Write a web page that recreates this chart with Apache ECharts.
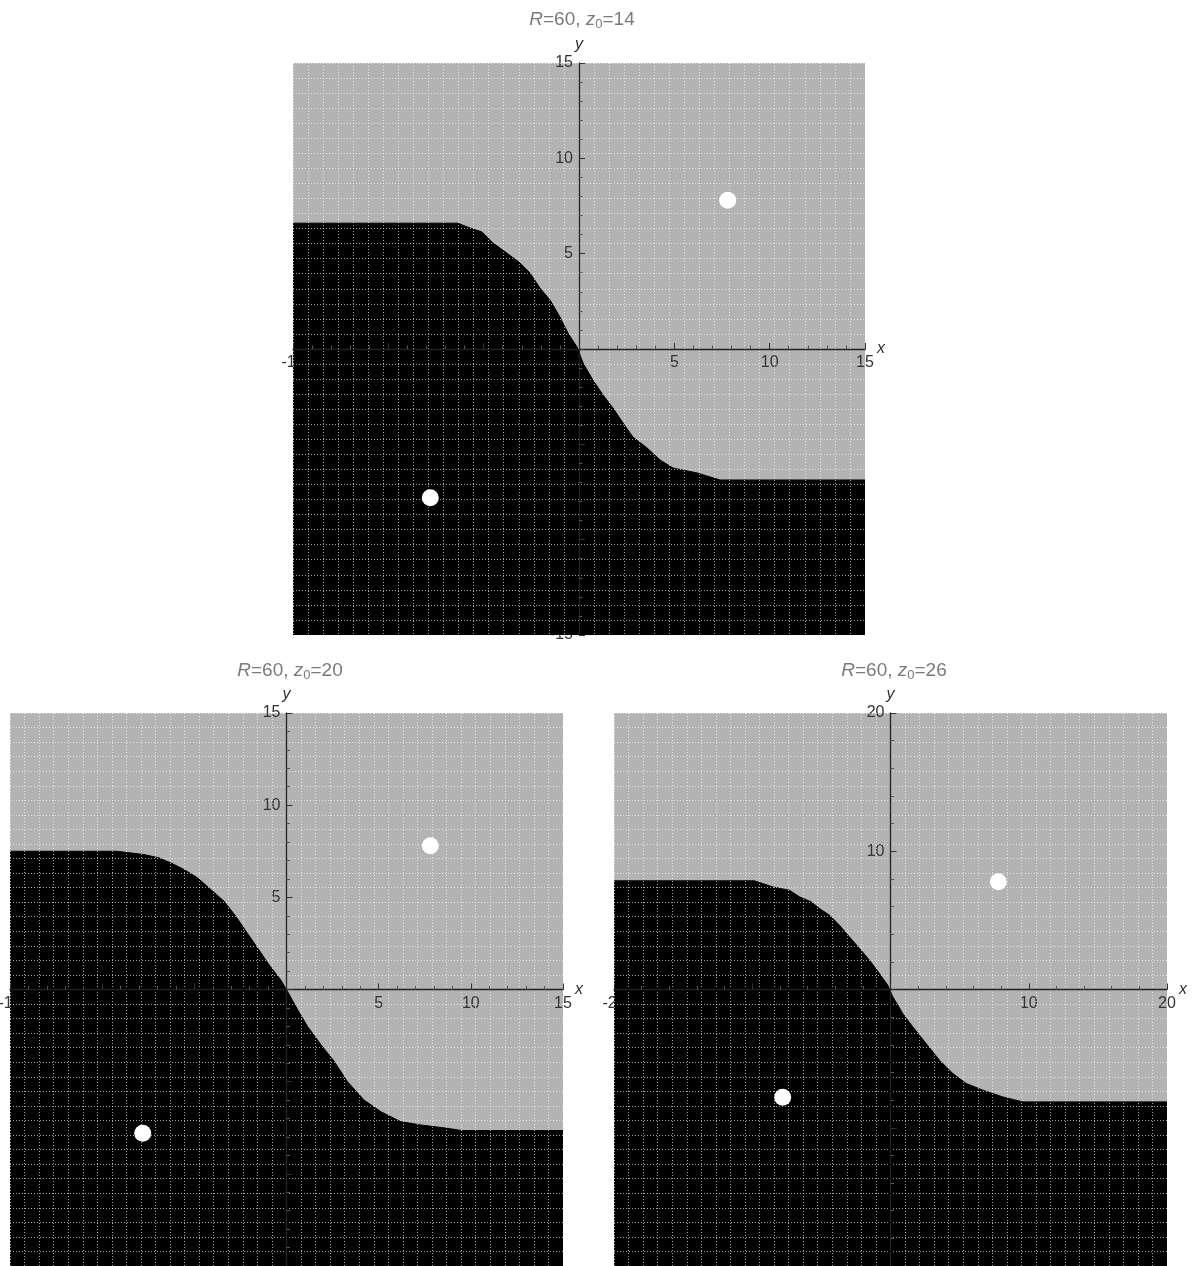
<!DOCTYPE html>
<html>
<head>
<meta charset="utf-8">
<script src="https://cdn.jsdelivr.net/npm/echarts@6/dist/echarts.min.js"></script>
<style>
  html, body { margin: 0; padding: 0; background: #fff; }
  #main { width: 1192px; height: 1266px; }
</style>
</head>
<body>
<div id="main"></div>
<script>
// boundary of the black region (x, y pairs per panel)
var p1X = [-15, -6.35, -5.72, -5.09, -4.51, -3.78, -3.09, -2.57, -2.05, -1.52, -1.00, -0.58, -0.10, 0.21, 0.73, 1.26, 1.78, 2.31, 2.83, 3.57, 4.25, 4.93, 6.19, 7.40, 15];
var p1Y = [6.6, 6.6, 6.35, 6.14, 5.56, 5.03, 4.51, 3.99, 3.20, 2.57, 1.68, 0.84, 0.10, -0.73, -1.63, -2.41, -3.09, -3.88, -4.62, -5.19, -5.82, -6.24, -6.50, -6.87, -6.87];

var p2X = [-15, -9.2, -7.73, -6.91, -6.28, -5.56, -4.83, -4.11, -3.39, -2.75, -2.12, -1.49, -0.94, -0.31, 0.05, 0.60, 1.14, 1.86, 2.58, 3.31, 4.21, 5.12, 6.20, 7.29, 8.74, 9.5, 15];
var p2Y = [7.5, 7.5, 7.32, 7.14, 6.87, 6.51, 6.06, 5.43, 4.79, 3.97, 3.05, 2.14, 1.33, 0.52, -0.09, -1.09, -2.0, -2.98, -3.89, -5.0, -6.0, -6.63, -7.17, -7.35, -7.53, -7.65, -7.65];

var p3X = [-20, -9.84, -8.51, -7.31, -6.58, -5.74, -5.14, -4.41, -3.69, -2.97, -2.24, -1.52, -0.80, -0.20, 0.17, 0.89, 1.61, 2.58, 3.54, 4.51, 5.48, 6.68, 8.12, 9.57, 20];
var p3Y = [7.86, 7.86, 7.42, 7.18, 6.70, 6.34, 5.86, 5.37, 4.65, 3.80, 2.97, 2.12, 1.16, 0.31, -0.53, -1.74, -2.70, -3.91, -5.11, -6.08, -6.80, -7.28, -7.77, -8.13, -8.13];

// the two white points
var dotsX = [7.8, -7.8];
var dotsY = [7.8, -7.8];

// panel settings
var titles = ["14", "20", "26"];
var ranges = [15, 15, 20];
var intervals = [5, 5, 10];
var meshCells = 38;

var font = "Liberation Sans, Arial, sans-serif";

function pairs(xs, ys) {
  var arr = [];
  for (var i = 0; i < xs.length; i++) {
    arr.push([xs[i], ys[i]]);
  }
  return arr;
}

var boundaries = [pairs(p1X, p1Y), pairs(p2X, p2Y), pairs(p3X, p3Y)];
var dots = pairs(dotsX, dotsY);

var grids = [
  { left: 293, top: 63, width: 572, height: 572 },
  { left: 10, top: 713, width: 553, height: 553 },
  { left: 614, top: 713, width: 553, height: 553 }
];
var titleCenters = [[577, 4], [285, 655], [889, 655]];

var xAxes = [], yAxes = [], series = [], titleList = [];

function hideZero(v) {
  return v === 0 ? "" : v;
}

// axes are moved to the middle of the grid (0 is always the centre) with offset.
// "labels" copy sits under the black region, "line" copy above the mesh.
function axis(i, dim, part) {
  var half = (dim === "x" ? grids[i].height : grids[i].width) / 2;
  var a = {
    gridIndex: i,
    type: "value",
    min: -ranges[i],
    max: ranges[i],
    interval: intervals[i],
    position: dim === "x" ? "bottom" : "left",
    offset: -half,
    splitLine: { show: false },
    axisLine: { show: false, onZero: false },
    axisTick: { show: false },
    axisLabel: { show: false }
  };
  if (part === "labels") {
    a.z = 0;
    a.axisLabel = { show: true, formatter: hideZero, fontSize: 16, color: "#333", margin: 6, fontFamily: font };
  } else {
    a.z = 4;
    a.name = dim;
    a.nameLocation = "end";
    a.nameGap = dim === "x" ? 12 : 10;
    a.nameTextStyle = { fontStyle: "italic", fontSize: 16, color: "#333", fontFamily: font };
    a.axisLine = { show: true, onZero: false, lineStyle: { color: "#222", width: 1.3 } };
    a.axisTick = { show: true, inside: true, length: 6, lineStyle: { color: "#333" } };
    a.minorTick = { show: true, splitNumber: 5, length: 3.5, lineStyle: { color: "#555" } };
  }
  return a;
}

for (var i = 0; i < 3; i++) {
  grids[i].backgroundColor = "#b3b3b3";
  grids[i].show = true;
  grids[i].borderWidth = 0;
  grids[i].containLabel = false;
  grids[i].outerBoundsMode = "none";

  titleList.push({
    text: "{i|R}=60, {i|z}{s|0}=" + titles[i],
    left: titleCenters[i][0],
    top: titleCenters[i][1],
    textAlign: "center",
    textStyle: {
      color: "#7a7a7a",
      fontSize: 19,
      fontWeight: "normal",
      fontFamily: font,
      rich: {
        i: { fontStyle: "italic", fontSize: 19, color: "#7a7a7a", fontFamily: font },
        s: { fontSize: 13, color: "#7a7a7a", fontFamily: font, padding: [9, 0, 0, 0] }
      }
    }
  });
}

// x/y axes 0-2: labels, 3-5: line and ticks, 6-8: dotted mesh
for (var i = 0; i < 3; i++) {
  xAxes.push(axis(i, "x", "labels"));
  yAxes.push(axis(i, "y", "labels"));
}
for (var i = 0; i < 3; i++) {
  xAxes.push(axis(i, "x", "line"));
  yAxes.push(axis(i, "y", "line"));
}
for (var i = 0; i < 3; i++) {
  var mesh = {
    gridIndex: i,
    type: "value",
    min: 0,
    max: meshCells,
    interval: 1,
    z: 3,
    axisLine: { show: false, onZero: false },
    axisTick: { show: false },
    axisLabel: { show: false },
    splitLine: { show: true, lineStyle: { color: "rgba(255,255,255,0.65)", type: [1, 2], width: 1 } }
  };
  xAxes.push(mesh);
  yAxes.push(JSON.parse(JSON.stringify(mesh)));
}

for (var i = 0; i < 3; i++) {
  series.push({
    type: "line",
    xAxisIndex: i,
    yAxisIndex: i,
    data: boundaries[i],
    symbol: "none",
    silent: true,
    z: 2,
    lineStyle: { color: "#000", width: 1 },
    areaStyle: { color: "#000", opacity: 1, origin: "start" }
  });
  series.push({
    type: "scatter",
    xAxisIndex: i,
    yAxisIndex: i,
    data: dots,
    symbolSize: 17,
    silent: true,
    z: 5,
    itemStyle: { color: "#fff", opacity: 1 }
  });
}

var myChart = echarts.init(document.getElementById("main"));
var option = {
  backgroundColor: "#fff",
  animation: false,
  title: titleList,
  grid: grids,
  xAxis: xAxes,
  yAxis: yAxes,
  series: series
};
myChart.setOption(option);
</script>
</body>
</html>
